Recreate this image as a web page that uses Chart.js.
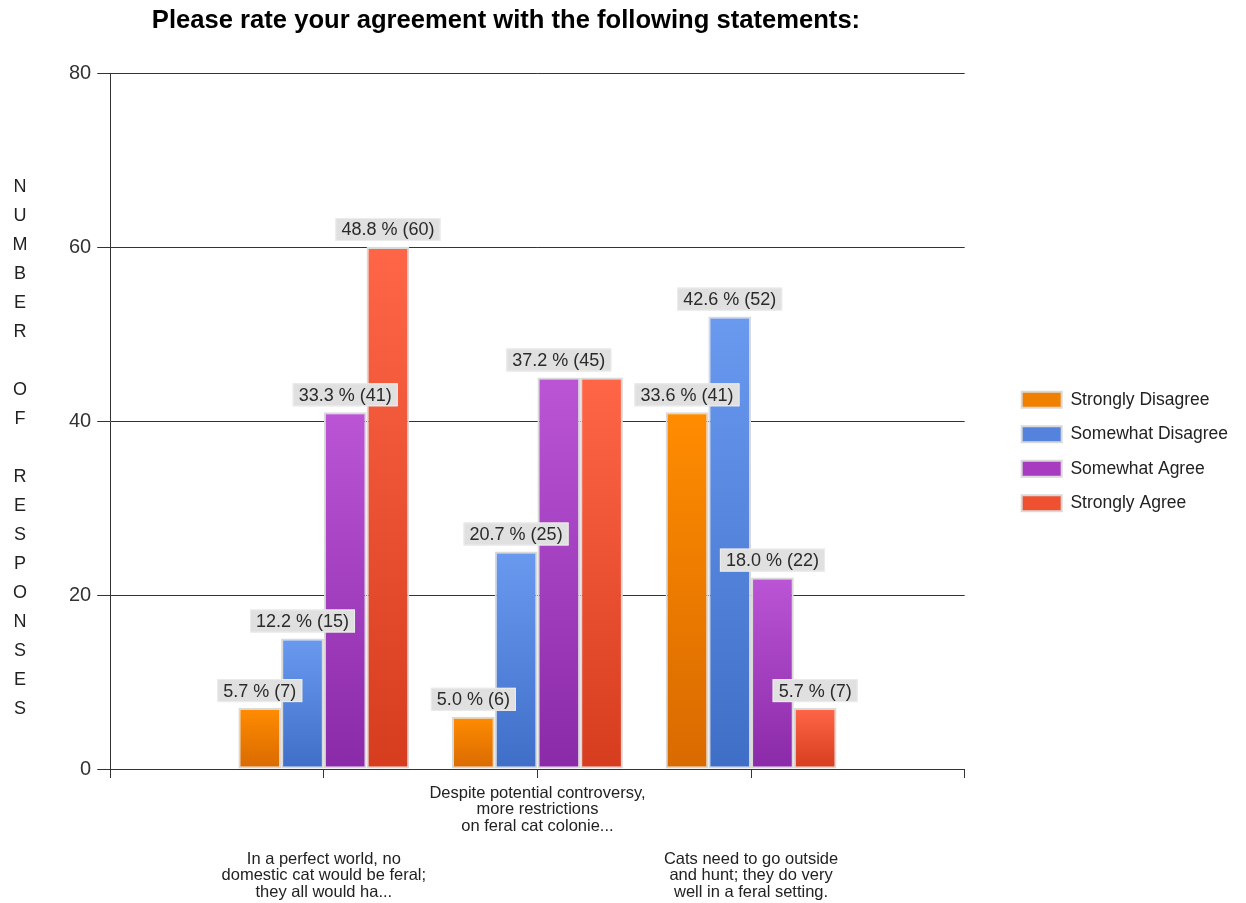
<!DOCTYPE html>
<html lang="en">
<head>
<meta charset="UTF-8" />
<title>Agreement ratings</title>
<script src="https://cdn.jsdelivr.net/npm/chart.js@4.4.0/dist/chart.umd.min.js"></script>
<style>
  html, body { margin: 0; padding: 0; background: #fff; }
  #wrap { width: 1246px; height: 903px; }
</style>
</head>
<body>
<div id="wrap"><canvas id="myChart"></canvas></div>
<script>
// statements on the x axis (the two outer ones sit one row lower)
const statements = [
  ['', '', '', '', 'In a perfect world, no', 'domestic cat would be feral;', 'they all would ha...'],
  ['Despite potential controversy,', 'more restrictions', 'on feral cat colonie...'],
  ['', '', '', '', 'Cats need to go outside', 'and hunt; they do very', 'well in a feral setting.']
];
const seriesNames = ['Strongly Disagree', 'Somewhat Disagree', 'Somewhat Agree', 'Strongly Agree'];

// response counts per statement
const stronglyDisagree = [7, 6, 41];
const somewhatDisagree = [15, 25, 52];
const somewhatAgree = [41, 45, 22];
const stronglyAgree = [60, 45, 7];

// share of responses in percent
const pctStronglyDisagree = [5.7, 5.0, 33.6];
const pctSomewhatDisagree = [12.2, 20.7, 42.6];
const pctSomewhatAgree = [33.3, 37.2, 18.0];
const pctStronglyAgree = [48.8, 37.2, 5.7];

const yTicks = [0, 20, 40, 60, 80];

const FONT = "'Liberation Sans', Arial, sans-serif";
const HEADING = 'Please rate your agreement with the following statements:';

// empty slot at each end so the groups sit on the inner ticks
const pad = arr => [null, ...arr, null];

function barFill(top, bottom, mid) {
  return ctx => {
    const chart = ctx.chart;
    if (!chart.chartArea || ctx.type !== 'data' || ctx.raw == null) return mid;
    const y = chart.scales.y.getPixelForValue(ctx.raw);
    const base = chart.scales.y.getPixelForValue(0);
    const g = chart.ctx.createLinearGradient(0, y, 0, base);
    g.addColorStop(0, top);
    g.addColorStop(1, bottom);
    return g;
  };
}

const fills = [
  ['#ff8c00', '#d96a00', '#f08000'],
  ['#6a9af0', '#3e6ec6', '#5582dc'],
  ['#bb55d6', '#8a2aa8', '#a73cc0'],
  ['#ff6547', '#d63c1e', '#ee5030']
];
const counts = [stronglyDisagree, somewhatDisagree, somewhatAgree, stronglyAgree];
const pcts = [pctStronglyDisagree, pctSomewhatDisagree, pctSomewhatAgree, pctStronglyAgree];

const datasets = seriesNames.map((name, i) => ({
  label: name,
  data: pad(counts[i]),
  pct: pad(pcts[i]),
  backgroundColor: barFill(fills[i][0], fills[i][1], fills[i][2]),
  borderColor: '#d9d9d9',
  borderWidth: 2,
  borderSkipped: false,
  categoryPercentage: 0.8,
  barPercentage: 1.0
}));

// value boxes above the bars; a box that would cover an earlier one is left out
const valueLabels = {
  id: 'valueLabels',
  afterDatasetsDraw(chart) {
    const c = chart.ctx;
    const drawn = [];
    c.save();
    c.font = '18px ' + FONT;
    chart.data.datasets.forEach((ds, di) => {
      chart.getDatasetMeta(di).data.forEach((bar, i) => {
        const v = ds.data[i];
        if (v == null) return;
        const text = ds.pct[i].toFixed(1) + ' % (' + v + ')';
        const w = c.measureText(text).width + 12;
        const h = 23;
        const x = bar.x - w / 2;
        const y = bar.y - 6 - h;
        const hit = drawn.some(b => x < b.x + b.w && x + w > b.x && y < b.y + b.h && y + h > b.y);
        if (hit) return;
        drawn.push({ x, y, w, h });
        c.fillStyle = '#e0e0e0';
        c.fillRect(x, y, w, h);
        c.strokeStyle = '#ececec';
        c.lineWidth = 1;
        c.strokeRect(x + 0.5, y + 0.5, w - 1, h - 1);
        c.fillStyle = '#2a2a2a';
        c.textAlign = 'center';
        c.textBaseline = 'middle';
        c.fillText(text, bar.x, y + h / 2 + 1);
      });
    });
    c.restore();
  }
};

// heading as a layout box on top, so the legend can still use the full height
const heading = {
  id: 'heading',
  beforeInit(chart) {
    const box = {
      position: 'top',
      weight: -10,
      fullSize: true,
      options: {},
      left: 0, top: 0, right: 0, bottom: 0, width: 0, height: 0,
      update(maxWidth) { this.width = maxWidth; this.height = 73; },
      isHorizontal() { return true; },
      getPadding() { return { left: 0, right: 0, top: 0, bottom: 0 }; },
      draw() {
        const c = chart.ctx;
        c.save();
        c.fillStyle = '#000';
        c.textAlign = 'center';
        c.textBaseline = 'middle';
        c.font = 'bold 25.6px ' + FONT;
        c.fillText(HEADING, 506, 21);
        c.restore();
      }
    };
    Chart.layouts.addBox(chart, box);
  }
};

// stacked letters of the vertical axis caption
const yCaption = {
  id: 'yCaption',
  afterDraw(chart) {
    const c = chart.ctx;
    c.save();
    c.textAlign = 'center';
    c.textBaseline = 'middle';
    c.font = '18px ' + FONT;
    c.fillStyle = '#222';
    'NUMBER OF RESPONSES'.split('').forEach((ch, i) => {
      if (ch !== ' ') c.fillText(ch, 20, 187 + i * 29);
    });
    c.restore();
  }
};

const ctx = document.getElementById('myChart').getContext('2d');
const myChart = new Chart(ctx, {
  type: 'bar',
  data: {
    labels: ['', ...statements, ''],
    datasets: datasets
  },
  plugins: [heading, valueLabels, yCaption],
  options: {
    responsive: true,
    maintainAspectRatio: false,
    animation: false,
    layout: { padding: { left: 63, top: 0, right: 8, bottom: 0 } },
    scales: {
      x: {
        offset: false,
        afterFit: s => { s.height = 134; },
        grid: { offset: false, drawOnChartArea: false, drawTicks: true, tickLength: 9, color: '#333' },
        border: { display: true, color: '#333' },
        ticks: {
          autoSkip: false, maxRotation: 0, minRotation: 0, padding: 7,
          color: '#222', font: { family: FONT, size: 16.5, lineHeight: '16.5px' }
        }
      },
      y: {
        min: 0, max: 80,
        afterBuildTicks: s => { s.ticks = yTicks.map(v => ({ value: v })); },
        grid: { color: '#333', tickLength: 13 },
        border: { color: '#333' },
        ticks: { padding: 6, color: '#333', font: { family: FONT, size: 20 } }
      },
      spacer: {
        position: 'right',
        grid: { display: false, drawTicks: false },
        border: { display: false },
        ticks: { display: false },
        afterFit: s => { s.width = 40; }
      }
    },
    plugins: {
      title: { display: false },
      tooltip: { enabled: false },
      legend: {
        position: 'right',
        maxWidth: 320,
        labels: {
          boxWidth: 40, boxHeight: 16, padding: 17,
          color: '#222', font: { family: FONT, size: 17.5 },
          generateLabels: chart => chart.data.datasets.map((ds, i) => ({
            text: ds.label,
            fillStyle: fills[i][2],
            strokeStyle: '#d9d9d9',
            lineWidth: 2,
            hidden: !chart.isDatasetVisible(i),
            datasetIndex: i,
            fontColor: '#222'
          }))
        }
      }
    }
  }
});
</script>
</body>
</html>
